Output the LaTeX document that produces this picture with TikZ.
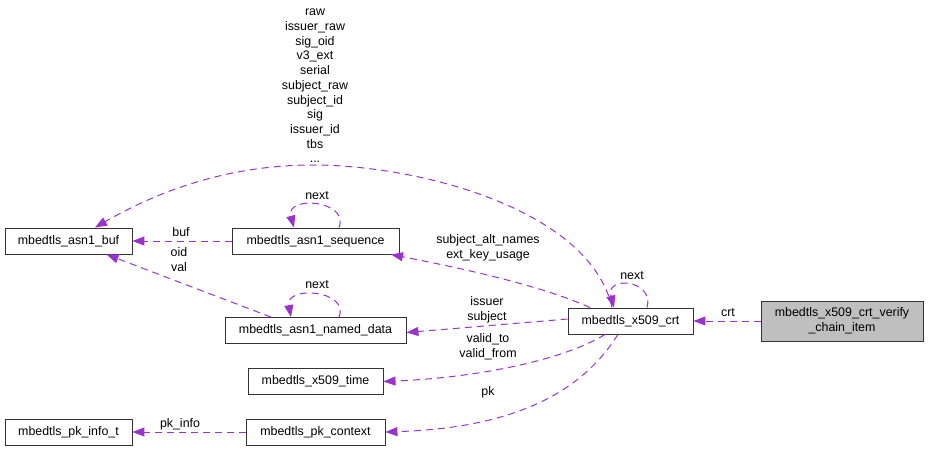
\documentclass[tikz,border=0pt]{standalone}
\usepackage{fontspec}
\setmainfont{Liberation Sans}
\usetikzlibrary{arrows.meta}

\definecolor{edgepurple}{HTML}{9A32CD}
\definecolor{rootgray}{HTML}{BFBFBF}

\begin{document}
\begin{tikzpicture}[
        x=1pt, y=-1pt,
        font=\fontsize{12.4}{14.7}\selectfont,
        block/.style={rectangle, draw=black!80, line width=0.9pt, inner sep=0pt, minimum height=26pt, minimum width=#1},
        line/.style={draw=edgepurple, line width=1pt, dash pattern=on 7pt off 5pt, -{Triangle[length=12pt, width=9pt]}},
        lbl/.style={inner sep=0pt, align=center}
        ]
        \useasboundingbox (0,0) rectangle (928,451);

        \node[block=127] (asnbuf) at (68.5,241) {mbedtls\_asn1\_buf};
        \node[block=167] (asnseq) at (315.5,241) {mbedtls\_asn1\_sequence};
        \node[block=181] (named) at (315.5,330.5) {mbedtls\_asn1\_named\_data};
        \node[block=135] (xtime) at (315.5,381.5) {mbedtls\_x509\_time};
        \node[block=127] (pkinfo) at (68.5,432) {mbedtls\_pk\_info\_t};
        \node[block=139] (pkctx) at (315.5,432) {mbedtls\_pk\_context};
        \node[block=125] (crt) at (630.5,321) {mbedtls\_x509\_crt};
        \node[block=162, minimum height=40pt, fill=rootgray, align=center] (chain) at (842,321) {mbedtls\_x509\_crt\_verify\\\_chain\_item};

        % crt -> everything it holds
        \path[line] (chain) -- (crt);
        \node[lbl] (lcrt) at (728,313) {crt};

        \path[line] ([xshift=16.5pt]crt.north) .. controls (655,280) and (605,275) .. ([xshift=-16.5pt]crt.north);
        \node[lbl] (lnext1) at (632,276) {next};

        \path[line] ([xshift=-18.5pt]crt.north) .. controls (590,210) and (420,165) .. (313,165)
            .. controls (230,165) and (160,190) .. ([xshift=26.5pt]asnbuf.north);
        \node[lbl] (lraw) at (315,86) {raw\\issuer\_raw\\sig\_oid\\v3\_ext\\serial\\subject\_raw\\subject\_id\\sig\\issuer\_id\\tbs\\...};

        \path[line] ([xshift=-40.5pt]crt.north) .. controls (540,285) and (460,268) .. ([xshift=75.5pt]asnseq.south);
        \node[lbl] (lalt) at (488,248) {subject\_alt\_names\\ext\_key\_usage};

        \path[line] ([yshift=2pt]crt.west) -- ([yshift=-2pt]named.east);
        \node[lbl] (liss) at (487,309.5) {issuer\\subject};

        \path[line] ([xshift=-25.5pt]crt.south) .. controls (560,362) and (470,378) .. (xtime.east);
        \node[lbl] (lvalid) at (488,347) {valid\_to\\valid\_from};

        \path[line] ([xshift=-12.5pt]crt.south) .. controls (580,395) and (510,428) .. (pkctx.east);
        \node[lbl] (lpk) at (488,392) {pk};

        % asn1 helpers
        \path[line] (asnseq) -- (asnbuf);
        \node[lbl] (lbuf) at (181,232) {buf};

        \path[line] ([xshift=23.5pt]asnseq.north) .. controls (350,200) and (285,195) .. ([xshift=-21.5pt]asnseq.north);
        \node[lbl] (lnext2) at (317,196) {next};

        \path[line] ([xshift=-44.5pt]named.north) -- ([xshift=38pt]asnbuf.south);
        \node[lbl] (loid) at (179,259.5) {oid\\val};

        \path[line] ([xshift=23.5pt]named.north) .. controls (350,290) and (285,285) .. ([xshift=-24.5pt]named.north);
        \node[lbl] (lnext3) at (317,285) {next};

        \path[line] (pkctx) -- (pkinfo);
        \node[lbl] (lpkinfo) at (180,424) {pk\_info};
      \end{tikzpicture}
\end{document}
